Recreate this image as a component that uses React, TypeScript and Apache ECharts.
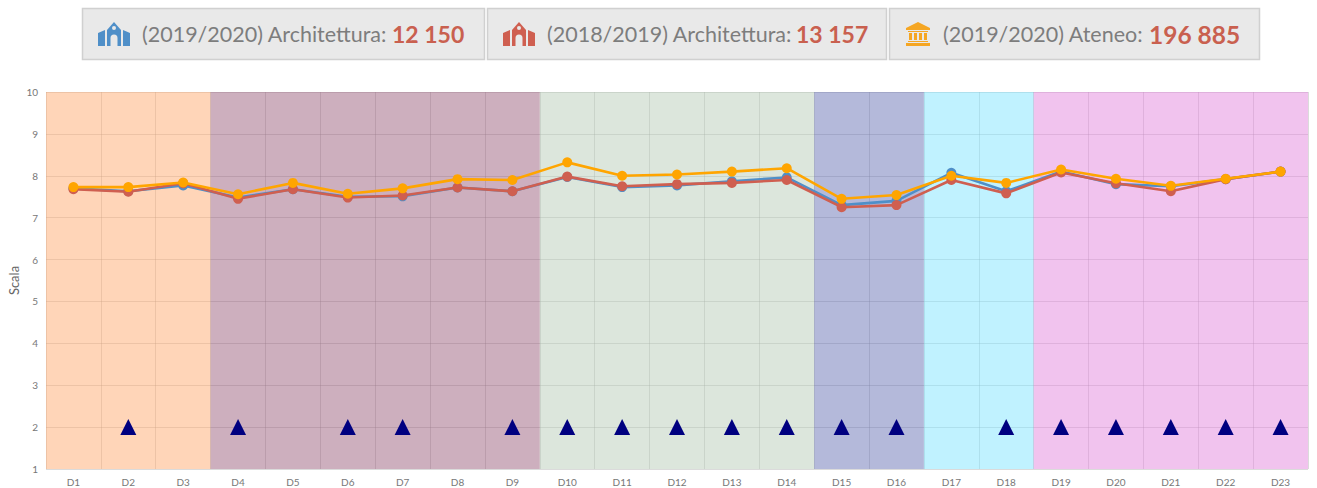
import React, { useEffect, useRef } from "react";
import * as echarts from "echarts";

const categories = ["D1","D2","D3","D4","D5","D6","D7","D8","D9","D10","D11","D12","D13","D14","D15","D16","D17","D18","D19","D20","D21","D22","D23"];
const blue2019 = [7.7,7.63,7.77,7.48,7.68,7.5,7.51,7.72,7.63,7.97,7.73,7.77,7.87,7.96,7.3,7.4,8.07,7.63,8.1,7.8,7.75,7.92,8.1];
const red2018 = [7.68,7.62,7.82,7.45,7.68,7.48,7.53,7.72,7.63,7.98,7.75,7.8,7.83,7.9,7.25,7.3,7.9,7.58,8.08,7.82,7.63,7.92,8.1];
const orangeAteneo = [7.73,7.73,7.84,7.56,7.83,7.57,7.7,7.92,7.9,8.32,8.0,8.03,8.1,8.18,7.45,7.54,8.0,7.83,8.15,7.93,7.76,7.93,8.1];
const triangleCategories = ["D2","D4","D6","D7","D9","D10","D11","D12","D13","D14","D15","D16","D18","D19","D20","D21","D22","D23"];
const triangleLevel = 2;
const bandEdges = [[0,3],[3,9],[9,14],[14,16],[16,18],[18,23]];
const bandColors = ["rgba(255,171,113,0.5)","rgba(155,95,125,0.5)","rgba(185,205,185,0.5)","rgba(105,115,181,0.5)","rgba(129,229,255,0.5)","rgba(227,135,221,0.5)"];
const yTicks = { min: 1, max: 10, interval: 1 };
const cards = [
  { label: "(2019/2020) Architettura:", value: "12 150", icon: "uni", color: "#4f8fc8", x: 82, w: 402, ix: 98, tx: 142, vx: 392, vs: 23 },
  { label: "(2018/2019) Architettura:", value: "13 157", icon: "uni", color: "#cf5f50", x: 487, w: 399, ix: 503, tx: 547, vx: 796, vs: 23 },
  { label: "(2019/2020) Ateneo:", value: "196 885", icon: "museum", color: "#f5a623", x: 889, w: 370, ix: 906, tx: 943, vx: 1149, vs: 24.5 },
];

const UNI = "M16 0 L23 8 L23 24 L19.5 24 L19.5 16 A3.5 3.5 0 0 0 12.5 16 L12.5 24 L9 24 L9 8 Z M16 4 A2 2 0 1 0 16 8 A2 2 0 1 0 16 4 Z M0 11 L7 8 L7 24 L0 24 Z M25 8 L32 11 L32 24 L25 24 Z";
const MUSEUM = "M12 0 L24 6 L24 8 L0 8 L0 6 Z M2 9 L22 9 L22 10 L2 10 Z M3 11 L6 11 L6 18 L3 18 Z M8 11 L11 11 L11 18 L8 18 Z M13 11 L16 11 L16 18 L13 18 Z M18 11 L21 11 L21 18 L18 18 Z M2 19 L22 19 L22 20 L2 20 Z M0 21 L24 21 L24 24 L0 24 Z";

export default function App() {
  const ref = useRef<HTMLDivElement>(null);
  useEffect(() => {
    echarts.graphic.registerShape("uni", echarts.graphic.extendPath(UNI, {}) as any);
    echarts.graphic.registerShape("museum", echarts.graphic.extendPath(MUSEUM, {}) as any);
    const chart = echarts.init(ref.current!, undefined, { renderer: "svg" });
    const font = "Lato, 'Open Sans', sans-serif";
    const graphics: any[] = [];
    cards.forEach((c) => {
      graphics.push({ type: "rect", shape: { x: c.x + 0.5, y: 8.5, width: c.w, height: 51 }, style: { fill: "#e9e9e9", stroke: "#d0d0d0", lineWidth: 1.5 } });
      graphics.push({ type: c.icon, x: c.ix, y: 22, style: { fill: c.color } });
      graphics.push({ type: "text", x: c.tx, y: 34, style: { text: c.label, fill: "#7d7d7d", font: `21.5px ${font}`, textVerticalAlign: "middle" } });
      graphics.push({ type: "text", x: c.vx, y: 34, style: { text: c.value, fill: "#c9604f", font: `bold ${c.vs}px ${font}`, textVerticalAlign: "middle" } });
    });
    const line = (name: string, data: number[], color: string, z: number) => ({
      name, type: "line", data, symbol: "circle", symbolSize: 10, z,
      xAxisIndex: 0, yAxisIndex: 0,
      lineStyle: { color, width: 2.6 }, itemStyle: { color, opacity: 1 },
    });
    chart.setOption({
      animation: false,
      graphic: graphics,
      grid: { left: 46, right: 9, top: 92, bottom: 19, outerBoundsMode: "none" },
      xAxis: [
        {
          type: "category", data: categories, boundaryGap: true,
          axisLine: { show: false }, axisTick: { show: false },
          axisLabel: { color: "#777", fontSize: 10, fontFamily: font, margin: 8, interval: 0 },
          splitLine: { show: true, interval: 0, lineStyle: { color: "#999", width: 1, opacity: 0.35 } },
        },
        { type: "value", min: 0, max: 23, show: false },
      ],
      yAxis: {
        type: "value", ...yTicks,
        name: "Scala", nameLocation: "middle", nameGap: 26, nameMoveOverlap: false,
        nameTextStyle: { color: "#666", fontSize: 13, fontFamily: font },
        axisLine: { show: false }, axisTick: { show: false },
        axisLabel: { color: "#777", fontSize: 10, fontFamily: font, margin: 8 },
        splitLine: { show: true, lineStyle: { color: "#999", width: 1, opacity: 0.35 } },
      },
      series: [
        {
          type: "line", xAxisIndex: 1, yAxisIndex: 0, data: [], z: 1, silent: true,
          markArea: {
            silent: true,
            data: bandEdges.map((e, i) => [
              { xAxis: e[0], yAxis: yTicks.min, itemStyle: { color: bandColors[i] } },
              { xAxis: e[1], yAxis: yTicks.max },
            ]),
          },
        },
        {
          name: "triangles", type: "scatter", symbol: "triangle", symbolSize: 16, z: 3,
          xAxisIndex: 0, yAxisIndex: 0,
          data: triangleCategories.map((c) => [c, triangleLevel]),
          itemStyle: { color: "#000080", opacity: 1 },
        },
        line("(2019/2020) Architettura", blue2019, "#4f8fc8", 4),
        line("(2018/2019) Architettura", red2018, "#cf5f50", 5),
        line("(2019/2020) Ateneo", orangeAteneo, "#ffa500", 6),
      ],
    });
    return () => chart.dispose();
  }, []);
  return <div ref={ref} style={{ position: "absolute", left: 0, top: 0, width: 1317, height: 488 }} />;
}
